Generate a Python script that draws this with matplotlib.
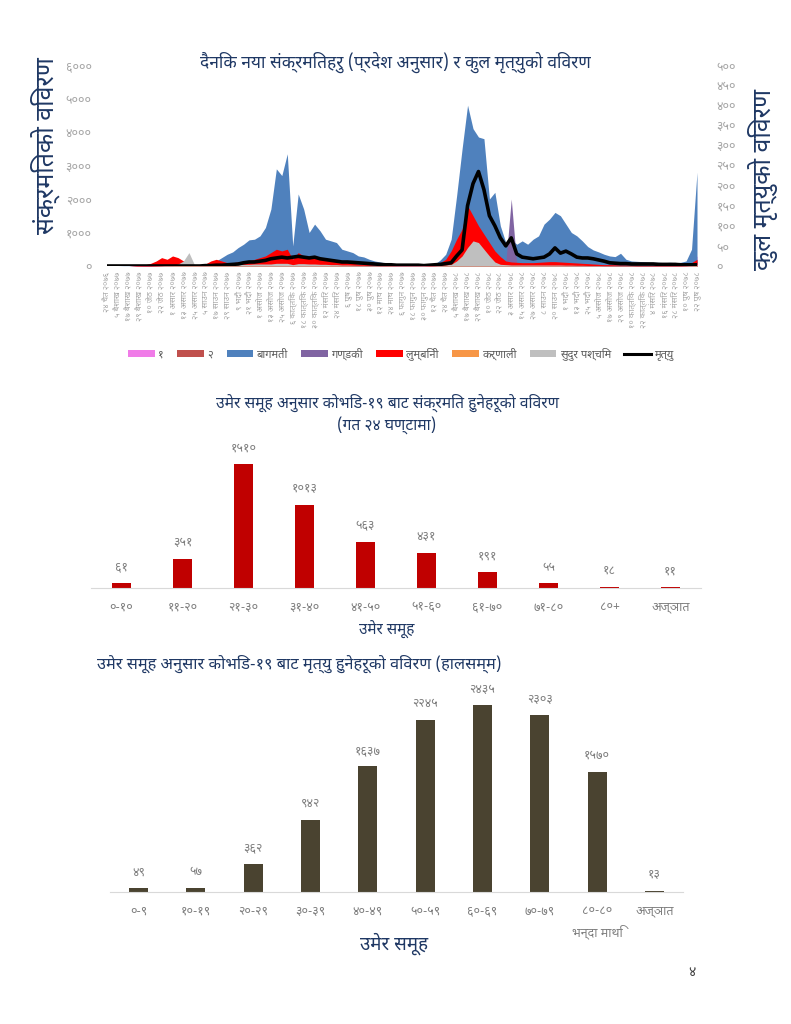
import numpy as np
import matplotlib
matplotlib.use("Agg")
import matplotlib.pyplot as plt
from matplotlib import font_manager
from matplotlib.patches import Patch
from matplotlib.lines import Line2D

# ---------------- fonts ----------------
names = {f.name for f in font_manager.fontManager.ttflist}
pref = ['Noto Sans Devanagari', 'Mukta', 'Hind', 'Poppins', 'Yantramanav', 'FreeSans']
dev = [n for n in pref if n in names]
FAM = dev[:1] + ['DejaVu Sans']
plt.rcParams['font.family'] = FAM

# ---------------- data: top chart ----------------
day = np.arange(0, 649, 6)  # sample positions (days)
tick_days = np.arange(0, 649, 12)
date_labels = [
    "२४ चैत २०७६", "५ बैशाख २०७७", "१७ बैशाख २०७७", "२९ बैशाख २०७७", "१० जेठ २०७७",
    "२२ जेठ २०७७", "१ असार २०७७", "१३ असार २०७७", "२५ असार २०७७", "५ साउन २०७७",
    "१७ साउन २०७७", "२९ साउन २०७७", "९ भदौ २०७७", "२१ भदौ २०७७", "१ असोज २०७७",
    "१३ असोज २०७७", "२५ असोज २०७७", "६ कात्तिक २०७७", "१८ कात्तिक २०७७", "३० कात्तिक २०७७",
    "१२ मंसिर २०७७", "२४ मंसिर २०७७", "६ पुष २०७७", "१८ पुष २०७७", "३० पुष २०७७",
    "१२ माघ २०७७", "२४ माघ २०७७", "६ फागुन २०७७", "१८ फागुन २०७७", "३० फागुन २०७७",
    "१२ चैत २०७७", "२४ चैत २०७७", "५ बैशाख २०७८", "१७ बैशाख २०७८", "२९ बैशाख २०७८",
    "१० जेठ २०७८", "२२ जेठ २०७८", "३ असार २०७८", "१५ असार २०७८", "२७ असार २०७८",
    "८ साउन २०७८", "२० साउन २०७८", "१ भदौ २०७८", "१३ भदौ २०७८", "२५ भदौ २०७८",
    "५ असोज २०७८", "१७ असोज २०७८", "२९ असोज २०७८", "१० कात्तिक २०७८", "२२ कात्तिक २०७८",
    "४ मंसिर २०७८", "१६ मंसिर २०७८", "२८ मंसिर २०७८", "१० पुष २०७८", "२२ पुष २०७८",
]

province1 = [0, 0, 0, 0, 0, 5, 5, 5, 10, 10,
             10, 10, 15, 15, 20, 20, 20, 20, 30, 40,
             50, 60, 80, 100, 120, 150, 180, 200, 220, 250,
             300, 350, 350, 400, 200, 350, 300, 250, 280, 250,
             200, 180, 160, 120, 110, 100, 80, 70, 50, 40,
             30, 25, 20, 15, 12, 10, 10, 10, 10, 12,
             20, 50, 100, 250, 500, 800, 1000, 900, 850, 800,
             600, 550, 400, 300, 300, 250, 280, 250, 300, 300,
             350, 380, 400, 380, 330, 280, 250, 200, 160, 140,
             120, 100, 90, 80, 80, 60, 50, 45, 40, 35,
             35, 35, 30, 30, 30, 30, 40, 100, 300]
province2 = [0, 0, 0, 0, 0, 5, 10, 10, 15, 20,
             15, 20, 25, 25, 30, 25, 25, 30, 40, 60,
             80, 100, 100, 120, 120, 130, 140, 150, 160, 180,
             200, 250, 220, 250, 100, 200, 180, 150, 160, 140,
             120, 100, 90, 80, 70, 60, 50, 40, 30, 25,
             20, 15, 12, 10, 8, 8, 8, 8, 8, 10,
             20, 40, 80, 200, 350, 500, 600, 550, 500, 450,
             350, 300, 200, 150, 130, 110, 120, 100, 110, 120,
             130, 140, 150, 140, 120, 100, 90, 80, 60, 50,
             45, 40, 35, 30, 30, 25, 20, 20, 20, 15,
             15, 15, 15, 15, 15, 15, 20, 50, 150]
bagmati = [0, 0, 0, 5, 5, 10, 10, 15, 15, 20,
           20, 25, 30, 30, 40, 30, 30, 40, 60, 100,
           150, 250, 350, 420, 550, 650, 780, 800, 900, 1150,
           1700, 2900, 2700, 3350, 600, 2150, 1700, 1000, 1250, 1050,
           800, 750, 700, 500, 450, 400, 300, 270, 200, 150,
           120, 90, 70, 50, 40, 40, 30, 30, 30, 40,
           60, 180, 350, 800, 2100, 3500, 4800, 4100, 3850, 3800,
           2000, 2200, 1200, 700, 800, 650, 750, 650, 800, 900,
           1250, 1400, 1600, 1500, 1250, 1000, 900, 750, 580, 480,
           420, 350, 300, 280, 380, 200, 150, 140, 130, 120,
           110, 110, 100, 110, 100, 110, 150, 500, 2800]
gandaki = [0, 0, 0, 0, 0, 5, 10, 20, 40, 60,
           100, 80, 100, 80, 60, 20, 15, 15, 30, 60,
           80, 60, 50, 50, 60, 70, 70, 90, 110, 130,
           170, 220, 200, 220, 90, 170, 130, 110, 130, 110,
           90, 70, 70, 50, 45, 35, 25, 20, 18, 14,
           12, 10, 8, 5, 5, 5, 5, 5, 5, 8,
           15, 50, 90, 200, 350, 500, 800, 650, 550, 420,
           300, 200, 130, 80, 2000, 60, 60, 60, 60, 60,
           70, 70, 70, 70, 60, 55, 50, 45, 40, 35,
           30, 25, 25, 20, 18, 18, 15, 15, 12, 12,
           12, 12, 12, 15, 15, 18, 30, 60, 120]
lumbini = [0, 0, 0, 0, 0, 10, 20, 40, 80, 150,
           250, 200, 300, 250, 150, 50, 30, 30, 60, 150,
           200, 150, 100, 100, 120, 150, 150, 200, 250, 300,
           400, 500, 450, 500, 200, 400, 300, 250, 300, 250,
           200, 150, 150, 120, 100, 80, 60, 50, 40, 30,
           25, 20, 15, 10, 10, 10, 10, 10, 10, 15,
           30, 100, 200, 450, 800, 1100, 1800, 1500, 1200, 950,
           700, 450, 280, 150, 120, 110, 100, 100, 100, 110,
           120, 130, 130, 120, 110, 100, 90, 80, 70, 60,
           50, 40, 40, 35, 30, 30, 25, 25, 20, 20,
           20, 20, 20, 25, 25, 30, 50, 100, 200]
karnali = [0, 0, 0, 0, 0, 0, 0, 0, 0, 3,
           5, 10, 10, 30, 70, 100, 20, 10, 10, 15,
           15, 15, 15, 20, 20, 25, 25, 30, 30, 30,
           30, 40, 40, 40, 20, 35, 35, 30, 30, 25,
           25, 20, 20, 15, 15, 12, 10, 10, 8, 8,
           5, 5, 5, 3, 3, 3, 3, 3, 3, 3,
           5, 10, 15, 25, 70, 150, 250, 350, 300, 220,
           150, 60, 25, 20, 15, 15, 15, 15, 15, 15,
           15, 15, 15, 15, 12, 12, 10, 10, 8, 8,
           8, 5, 5, 5, 5, 5, 5, 3, 3, 3,
           3, 3, 3, 3, 3, 3, 5, 10, 20]
sudurpaschim = [0, 0, 0, 0, 0, 0, 0, 0, 0, 5,
                10, 20, 20, 60, 150, 400, 40, 20, 20, 30,
                30, 30, 30, 40, 40, 50, 50, 60, 60, 60,
                60, 80, 80, 80, 40, 70, 70, 60, 60, 50,
                50, 40, 40, 30, 30, 25, 20, 20, 15, 15,
                10, 10, 10, 5, 5, 5, 5, 5, 5, 5,
                10, 20, 30, 50, 150, 300, 550, 750, 700, 500,
                300, 120, 50, 40, 30, 30, 30, 30, 30, 30,
                30, 30, 30, 30, 25, 25, 20, 20, 15, 15,
                15, 10, 10, 10, 10, 10, 10, 5, 5, 5,
                5, 5, 5, 5, 5, 5, 10, 20, 40]
deaths = [0, 0, 0, 0, 0, 0, 0, 0, 0, 0,
          0, 0, 0, 0, 0, 0, 0, 0, 1, 1,
          2, 2, 3, 4, 5, 8, 10, 10, 12, 14,
          18, 20, 22, 20, 22, 24, 22, 20, 22, 18,
          16, 14, 12, 10, 10, 9, 8, 7, 6, 5,
          4, 3, 3, 2, 2, 2, 2, 2, 1, 2,
          3, 4, 6, 8, 25, 40, 150, 205, 235, 190,
          125, 100, 70, 50, 70, 30, 22, 20, 18, 20,
          22, 30, 45, 32, 37, 30, 22, 20, 20, 18,
          15, 12, 8, 7, 6, 6, 5, 5, 5, 5,
          5, 4, 4, 4, 4, 3, 3, 3, 3]

series_names = ["१", "२", "बागमती", "गण्डकी", "लुम्बिनी", "कर्णाली", "सुदुर पश्चिम"]
series_values = [province1, province2, bagmati, gandaki, lumbini, karnali, sudurpaschim]
death_name = "मृत्यु"
left_ticks = [0, 1000, 2000, 3000, 4000, 5000, 6000]
left_tick_labels = ["०", "१०००", "२०००", "३०००", "४०००", "५०००", "६०००"]
right_ticks = [0, 50, 100, 150, 200, 250, 300, 350, 400, 450, 500]
right_tick_labels = ["०", "५०", "१००", "१५०", "२००", "२५०", "३००", "३५०", "४००", "४५०", "५००"]

# ---------------- data: middle chart ----------------
mid_categories = ["०-१०", "११-२०", "२१-३०", "३१-४०", "४१-५०", "५१-६०", "६१-७०", "७१-८०", "८०+", "अज्ञात"]
mid_values = [61, 351, 1510, 1013, 563, 431, 191, 55, 18, 11]
mid_value_labels = ["६१", "३५१", "१५१०", "१०१३", "५६३", "४३१", "१९१", "५५", "१८", "११"]

# ---------------- data: bottom chart ----------------
bot_categories = ["०-९", "१०-१९", "२०-२९", "३०-३९", "४०-४९", "५०-५९", "६०-६९", "७०-७९", "८०-८०\nभन्दा माथि", "अज्ञात"]
bot_values = [49, 57, 362, 942, 1637, 2245, 2435, 2303, 1570, 13]
bot_value_labels = ["४९", "५७", "३६२", "९४२", "१६३७", "२२४५", "२४३५", "२३०३", "१५७०", "१३"]

# ---------------- styles ----------------
colors = ["#f07ce8", "#c0504d", "#4f81bd", "#8064a2", "#ff0000", "#f79646", "#bfbfbf"]
NAVY = "#1f3864"
LIGHT = "#a6a6a6"
W, H = 791, 1024


def rect(l, t, r, b):
    return [l / W, 1 - b / H, (r - l) / W, (b - t) / H]


fig = plt.figure(figsize=(7.91, 10.24), dpi=100)

# ================= top chart =================
ax = fig.add_axes(rect(107, 65, 697, 266))
for vals, c in zip(series_values, colors):
    ax.fill_between(day, 0, vals, color=c, lw=0)
ax.set_xlim(0, 648)
ax.set_ylim(0, 6000)
ax.set_yticks(left_ticks)
ax.set_yticklabels(left_tick_labels, fontsize=9, color=LIGHT)
ax.set_xticks(tick_days)
ax.set_xticklabels(date_labels, rotation=90, fontsize=6, color=LIGHT)
ax.tick_params(axis="both", length=0)
ax.tick_params(axis="y", pad=11)
ax.tick_params(axis="x", pad=4)
for s in ax.spines.values():
    s.set_visible(False)

ax2 = ax.twinx()
ax2.plot(day, deaths, color="black", lw=2.6, solid_joinstyle="round")
ax2.set_ylim(0, 500)
ax2.set_yticks(right_ticks)
ax2.set_yticklabels(right_tick_labels, fontsize=9, color=LIGHT)
ax2.tick_params(axis="y", length=0, pad=14)
for s in ax2.spines.values():
    s.set_visible(False)

fig.text(395 / W, 1 - 62 / H, "दैनिक नया संक्रमितहरु (प्रदेश अनुसार) र कुल मृत्युको विवरण",
         ha="center", va="center", fontsize=12.5, fontweight="bold", color=NAVY)
fig.text(45 / W, 1 - 146 / H, "संक्रमितको विवरण", rotation=90, ha="center", va="center",
         fontsize=18, color=NAVY)
fig.text(763 / W, 1 - 180 / H, "कुल मृत्युको विवरण", rotation=90, ha="center", va="center",
         fontsize=18, color=NAVY)

handles = [Patch(facecolor=c, edgecolor="none") for c in colors] + [Line2D([], [], color="black", lw=2.2)]
labels = series_names + [death_name]
fig.legend(handles, labels, loc="center", bbox_to_anchor=(401 / W, 1 - 354 / H), ncol=8,
           frameon=False, fontsize=8, labelcolor="#595959", handlelength=2.4, handleheight=0.7,
           columnspacing=1.2, handletextpad=0.3)

# ================= middle chart =================
axm = fig.add_axes(rect(91, 440, 701, 588))
xm = np.arange(len(mid_categories))
bm = axm.bar(xm, mid_values, width=0.31, color="#c00000")
axm.bar_label(bm, labels=mid_value_labels, padding=7, fontsize=9, color="#7f7f7f")
axm.set_xlim(-0.5, len(mid_categories) - 0.5)
axm.set_ylim(0, 1800)
axm.set_yticks([])
axm.set_xticks(xm)
axm.set_xticklabels(mid_categories, fontsize=9, color="#7f7f7f")
axm.tick_params(axis="x", length=0, pad=9)
for k in ["top", "left", "right"]:
    axm.spines[k].set_visible(False)
axm.spines["bottom"].set_color("#d9d9d9")
fig.text(387 / W, 1 - 403 / H, "उमेर समूह अनुसार कोभिड-१९ बाट संक्रमित हुनेहरूको विवरण",
         ha="center", va="center", fontsize=11.3, fontweight="bold", color=NAVY)
fig.text(387 / W, 1 - 425 / H, "(गत २४ घण्टामा)",
         ha="center", va="center", fontsize=11.3, fontweight="bold", color=NAVY)
fig.text(387 / W, 1 - 630 / H, "उमेर समूह", ha="center", va="center", fontsize=11,
         fontweight="bold", color=NAVY)

# ================= bottom chart =================
axb = fig.add_axes(rect(110, 685, 683, 892))
xb = np.arange(len(bot_categories))
bb = axb.bar(xb, bot_values, width=0.33, color="#4a4330")
axb.bar_label(bb, labels=bot_value_labels, padding=7, fontsize=9, color="#7f7f7f")
axb.set_xlim(-0.5, len(bot_categories) - 0.5)
axb.set_ylim(0, 2700)
axb.set_yticks([])
axb.set_xticks(xb)
axb.set_xticklabels(bot_categories, fontsize=9, color="#7f7f7f", va="top", linespacing=1.6)
axb.tick_params(axis="x", length=0, pad=9)
for k in ["top", "left", "right"]:
    axb.spines[k].set_visible(False)
axb.spines["bottom"].set_color("#d9d9d9")
fig.text(97 / W, 1 - 664 / H, "उमेर समूह अनुसार कोभिड-१९ बाट मृत्यु हुनेहरूको विवरण (हालसम्म)",
         ha="left", va="center", fontsize=11.8, fontweight="bold", color=NAVY)
fig.text(394 / W, 1 - 944 / H, "उमेर समूह", ha="center", va="center", fontsize=13.5,
         fontweight="bold", color=NAVY)

fig.text(692 / W, 1 - 972 / H, "४", ha="center", va="center", fontsize=10, color="#404040")

fig.savefig("out.png", dpi=100, facecolor="white")
